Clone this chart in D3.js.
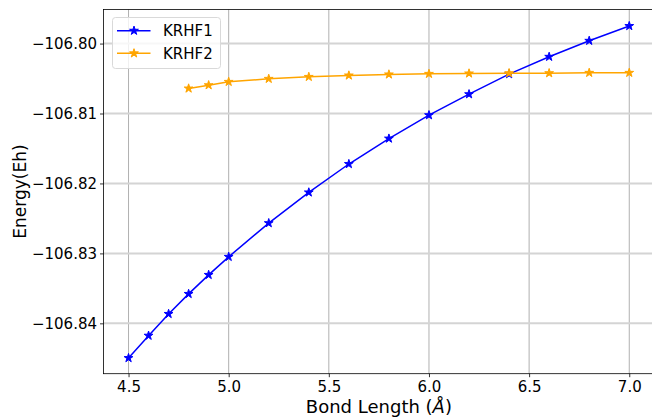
<!DOCTYPE html>
<html>
<head>
<meta charset="utf-8">
<script src="https://cdn.jsdelivr.net/npm/d3@7"></script>
<style>
  body { margin: 0; background: #fff; }
  svg { display: block; font-family: "DejaVu Sans", sans-serif; }
</style>
</head>
<body>
<svg id="chart" width="652" height="418"></svg>
<script>
// bond lengths (Å) and energies (Eh)
const bond1 = [4.5, 4.6, 4.7, 4.8, 4.9, 5.0, 5.2, 5.4, 5.6, 5.8, 6.0, 6.2, 6.4, 6.6, 6.8, 7.0];
const krhf1 = [-106.84496, -106.84176, -106.83865, -106.83579, -106.83307, -106.83049,
  -106.82567, -106.82128, -106.81722, -106.81358, -106.81024, -106.80724,
  -106.80437, -106.80189, -106.79960, -106.79749];

const bond2 = [4.8, 4.9, 5.0, 5.2, 5.4, 5.6, 5.8, 6.0, 6.2, 6.4, 6.6, 6.8, 7.0];
const krhf2 = [-106.80642, -106.80595, -106.80547, -106.80504, -106.80476, -106.80456,
  -106.80441, -106.80433, -106.80427, -106.80423, -106.80423, -106.80418, -106.80418];

const xTicks = [4.5, 5.0, 5.5, 6.0, 6.5, 7.0];
const yTicks = [-106.84, -106.83, -106.82, -106.81, -106.80];

const series = [
  { name: "KRHF1", color: "blue", xs: bond1, ys: krhf1 },
  { name: "KRHF2", color: "orange", xs: bond2, ys: krhf2 },
];

const svg = d3.select("#chart");
const m = { left: 103.5, right: 654.3, top: 9.5, bottom: 373.7 };

// matplotlib-style 5% margins
const x = d3.scaleLinear().domain([4.375, 7.125]).range([m.left, m.right]);
const y = d3.scaleLinear().domain([-106.84720, -106.79513]).range([m.bottom, m.top]);

// grid
svg.append("g")
  .selectAll("line")
  .data(xTicks)
  .join("line")
  .attr("x1", (d) => x(d)).attr("x2", (d) => x(d))
  .attr("y1", m.top).attr("y2", m.bottom)
  .attr("stroke", "#b0b0b0").attr("stroke-width", 1);

svg.append("g")
  .selectAll("line")
  .data(yTicks)
  .join("line")
  .attr("x1", m.left).attr("x2", m.right)
  .attr("y1", (d) => y(d)).attr("y2", (d) => y(d))
  .attr("stroke", "#d4d4d4").attr("stroke-width", 2);

// axes
const xAxis = svg.append("g")
  .attr("transform", `translate(0,${m.bottom})`)
  .call(d3.axisBottom(x).tickValues(xTicks).tickFormat(d3.format(".1f")).tickSizeInner(3.5).tickSizeOuter(0).tickPadding(4));
const yAxis = svg.append("g")
  .attr("transform", `translate(${m.left},0)`)
  .call(d3.axisLeft(y).tickValues(yTicks).tickFormat((d) => d3.format(".2f")(d).replace("-", "\u2212")).tickSizeInner(3.5).tickSizeOuter(0).tickPadding(3));

[xAxis, yAxis].forEach((g) => {
  g.select(".domain").remove();
  g.selectAll("line").attr("stroke", "#000").attr("stroke-width", 0.8);
  g.selectAll("text").attr("font-size", 15).attr("fill", "#000")
    .attr("font-family", "DejaVu Sans");
});

// frame
svg.append("rect")
  .attr("x", m.left).attr("y", m.top)
  .attr("width", m.right - m.left).attr("height", m.bottom - m.top)
  .attr("fill", "none").attr("stroke", "#000").attr("stroke-width", 0.8);

// series
const star = d3.symbol().type(d3.symbolStar).size(24);
const line = d3.line();

series.forEach((s) => {
  const pts = s.xs.map((v, i) => [x(v), y(s.ys[i])]);
  svg.append("path")
    .attr("d", line(pts))
    .attr("fill", "none")
    .attr("stroke", s.color)
    .attr("stroke-width", 1.5);
  svg.append("g")
    .selectAll("path")
    .data(pts)
    .join("path")
    .attr("transform", (d) => `translate(${d[0]},${d[1]})`)
    .attr("d", star)
    .attr("fill", s.color)
    .attr("stroke", s.color)
    .attr("stroke-width", 1);
});

// axis labels
svg.append("text")
  .attr("x", (m.left + m.right) / 2).attr("y", 413)
  .attr("text-anchor", "middle")
  .attr("font-size", 18)
  .html('Bond Length (<tspan font-style="italic">Å</tspan>)');

svg.append("text")
  .attr("transform", `translate(26,${(m.top + m.bottom) / 2}) rotate(-90)`)
  .attr("text-anchor", "middle")
  .attr("font-size", 17)
  .text("Energy(Eh)");

// legend
const legend = svg.append("g").attr("transform", "translate(112.5,17.5)");
legend.append("rect")
  .attr("width", 108).attr("height", 51).attr("rx", 3)
  .attr("fill", "#fff").attr("fill-opacity", 0.8)
  .attr("stroke", "#d9d9d9").attr("stroke-width", 1);

series.forEach((s, i) => {
  const row = legend.append("g").attr("transform", `translate(0,${13.2 + i * 22.6})`);
  row.append("line")
    .attr("x1", 4.5).attr("x2", 38)
    .attr("stroke", s.color).attr("stroke-width", 1.5);
  row.append("path")
    .attr("transform", "translate(21.5,0)")
    .attr("d", star)
    .attr("fill", s.color).attr("stroke", s.color).attr("stroke-width", 1);
  row.append("text")
    .attr("x", 50.5).attr("dy", "0.36em")
    .attr("font-size", 15)
    .text(s.name);
});
</script>
</body>
</html>
